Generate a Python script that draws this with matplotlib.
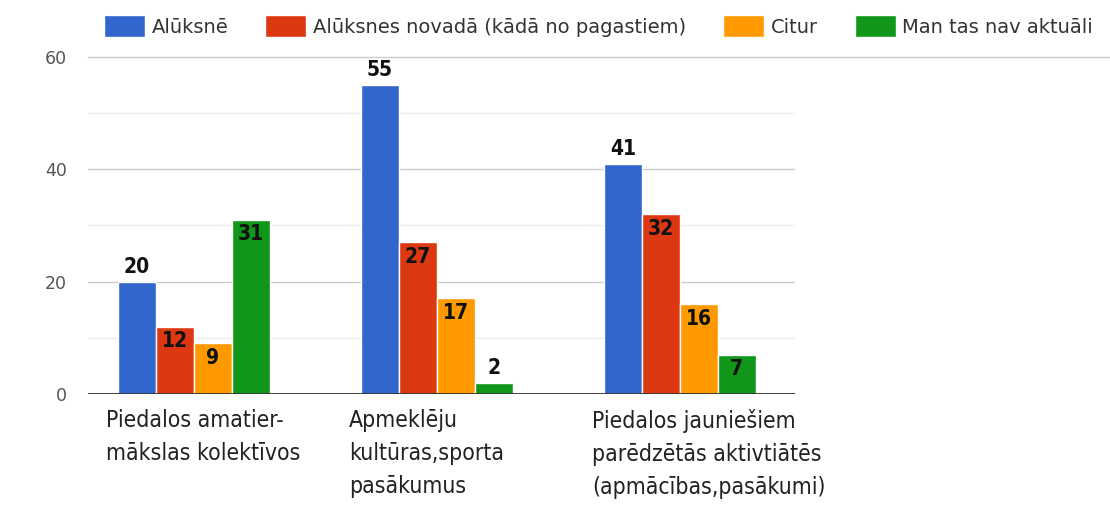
import numpy as np
import matplotlib
matplotlib.use('Agg')
import matplotlib.pyplot as plt

# data
categories = ['Piedalos amatier-\nmākslas kolektīvos',
              'Apmeklēju\nkultūras,sporta\npasākumus',
              'Piedalos jauniešiem\nparēdzētās aktivtiātēs\n(apmācības,pasākumi)']
series = ['Alūksnē', 'Alūksnes novadā (kādā no pagastiem)', 'Citur', 'Man tas nav aktuāli']
aluksne = [20, 55, 41]
novada = [12, 27, 32]
citur = [9, 17, 16]
nav_aktuali = [31, 2, 7]
yticks = [0, 20, 40, 60]

colors = ['#3366cc', '#dc3912', '#ff9900', '#109618']

fig = plt.figure(figsize=(11.1, 5.05), dpi=100)
ax = fig.add_axes([0.079, 0.22, 0.637, 0.667])

x = np.arange(len(categories))
w = 0.156
vals = [aluksne, novada, citur, nav_aktuali]
for k, v in enumerate(vals):
    xs = x + (k - 1.5) * w
    ax.bar(xs, v, width=w, color=colors[k], edgecolor='white', linewidth=1,
           label=series[k], zorder=3)
    for xi, val in zip(xs, v):
        # blue labels sit above the bar, tiny bars too
        if k == 0 or val < 5:
            ax.text(xi, val + 0.9, str(val), ha='center', va='bottom', fontsize=15,
                    fontweight='bold', fontstretch='condensed', color='#111111', zorder=4)
        else:
            ax.text(xi, val - 0.8, str(val), ha='center', va='top', fontsize=15,
                    fontweight='bold', fontstretch='condensed', color='#111111', zorder=4)

ax.set_xlim(-0.436, 2.473)
ax.set_ylim(0, 60)
ax.set_yticks(yticks)
ax.set_yticklabels([str(t) for t in yticks], fontsize=12.5, color='#555555')
ax.tick_params(axis='y', length=0, pad=15)
ax.set_xticks([])
for s in ax.spines.values():
    s.set_visible(False)

for g in [10, 30, 50]:
    ax.axhline(g, color='#ececec', linewidth=1, zorder=1)
for g in [20, 40]:
    ax.axhline(g, color='#cccccc', linewidth=1, zorder=1)
# top line runs on to the right edge
ax.plot([-0.436, 4.3], [60, 60], color='#cccccc', linewidth=1, clip_on=False, zorder=1)
ax.axhline(0, color='#333333', linewidth=1.3, zorder=5)

for xi, lab in zip(x, categories):
    ax.text(xi - 0.36, -2.7, lab, ha='left', va='top', fontsize=16.5, fontstretch='condensed',
            color='#222222', linespacing=1.55, clip_on=False)

fig.legend(loc='upper left', bbox_to_anchor=(0.078, 1.005), ncol=4, frameon=False,
           fontsize=14, handlelength=2.1, handleheight=1.4, handletextpad=0.35,
           columnspacing=1.9, labelcolor='#333333')

fig.savefig('out.png', dpi=100, facecolor='white')
